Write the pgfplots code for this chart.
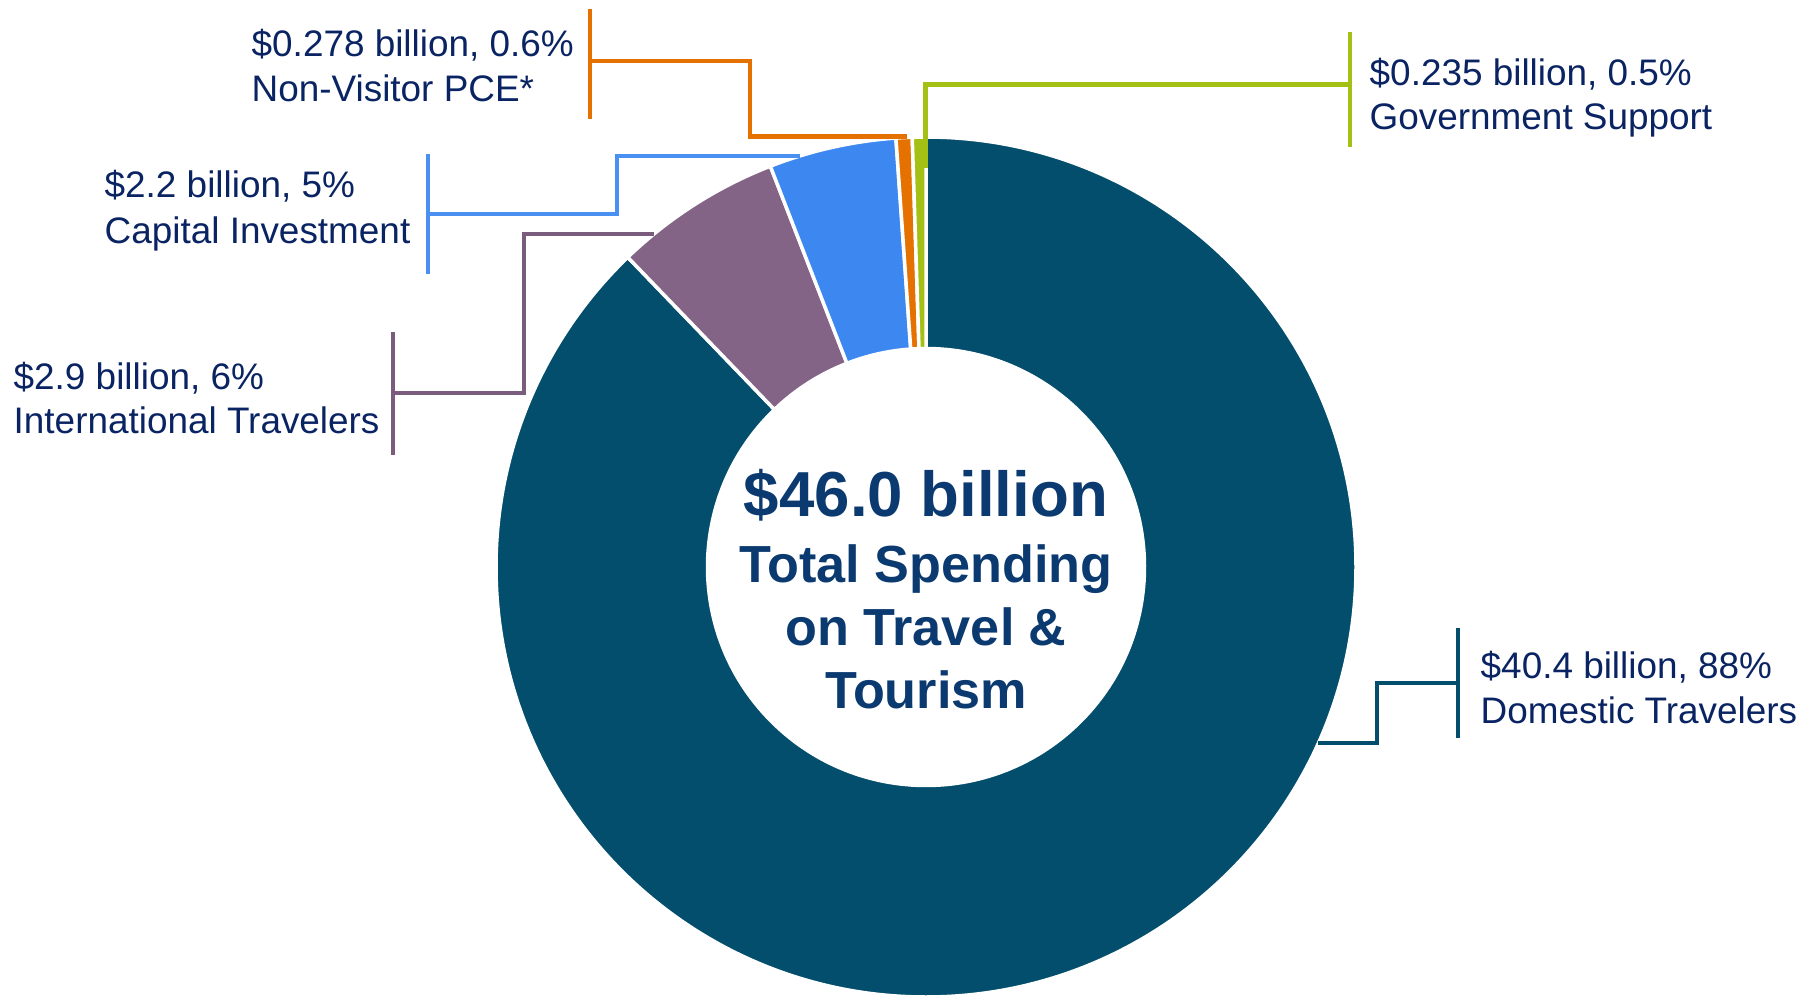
\documentclass[border=0pt]{standalone}
\usepackage{fontspec}
\setmainfont{Liberation Sans}
\usepackage{pgfplots}
\usepackage{pgfplotstable}
\pgfplotsset{compat=1.18}
\definecolor{cDom}{HTML}{034E6C}
\definecolor{cInt}{HTML}{846486}
\definecolor{cIntL}{HTML}{7A5C7C}
\definecolor{cCap}{HTML}{3C87F0}
\definecolor{cCapL}{HTML}{4A90F0}
\definecolor{cNV}{HTML}{E57200}
\definecolor{cGov}{HTML}{A4C014}
\definecolor{cTxt}{HTML}{0A2463}
\definecolor{cCen}{HTML}{0B3A70}
\pgfplotstableread{
label value
Domestic 40.4
International 2.9
Capital 2.2
NonVisitor 0.278
Government 0.235
}\spend
\newcommand\donutslice[3]{%
  \fill[#3, draw=white, line width=0.35mm] (axis cs:926,430) ++(#1:43mm)
    arc[start angle=#1, end angle=#2, radius=43mm]
    -- ++({#2+180}:21.15mm)
    arc[start angle=#2, end angle=#1, radius=21.85mm] -- cycle;}
\newcommand\lbl[3]{\node[anchor=base west, inner sep=0pt, text=cTxt, font=\fontsize{10.5}{12}\selectfont] at (axis cs:#1,#2) {#3};}
\begin{document}
\begin{tikzpicture}
\pgfplotstablegetelem{0}{value}\of\spend \let\vA\pgfplotsretval
\pgfplotstablegetelem{1}{value}\of\spend \let\vB\pgfplotsretval
\pgfplotstablegetelem{2}{value}\of\spend \let\vC\pgfplotsretval
\pgfplotstablegetelem{3}{value}\of\spend \let\vD\pgfplotsretval
\pgfplotstablegetelem{4}{value}\of\spend \let\vE\pgfplotsretval
\pgfmathsetmacro\tot{\vA+\vB+\vC+\vD+\vE}
\pgfmathsetmacro\aA{90}
\pgfmathsetmacro\aB{\aA-360*\vA/\tot}
\pgfmathsetmacro\aC{\aB-360*\vB/\tot}
\pgfmathsetmacro\aD{\aC-360*\vC/\tot}
\pgfmathsetmacro\aE{\aD-360*\vD/\tot}
\pgfmathsetmacro\aF{\aE-360*\vE/\tot}
\begin{axis}[
  x=0.1mm, y=0.1mm,
  xmin=0, xmax=1814, ymin=0, ymax=997,
  hide axis, clip=false,
  scale only axis,
]
\coordinate (BL) at (axis cs:0,0);
\coordinate (TR) at (axis cs:1814,997);
\donutslice{\aA}{\aB}{cDom}
\donutslice{\aB}{\aC}{cInt}
\donutslice{\aC}{\aD}{cCap}
\donutslice{\aD}{\aE}{cNV}
\donutslice{\aE}{\aF}{cGov}
% leader lines
\addplot[cDom, line width=0.45mm, mark=none] coordinates {(1318,254) (1377,254) (1377,314) (1458,314)};
\addplot[cDom, line width=0.45mm, mark=none] coordinates {(1458,369) (1458,259)};
\addplot[cGov, line width=0.45mm, mark=none] coordinates {(925.6,829) (925.6,912.5) (1350,912.5)};
\addplot[cGov, line width=0.45mm, mark=none] coordinates {(1350,965) (1350,850)};
\addplot[cNV, line width=0.45mm, mark=none] coordinates {(907,860.5) (750,860.5) (750,936) (590,936)};
\addplot[cNV, line width=0.45mm, mark=none] coordinates {(590,988) (590,878)};
\addplot[cCapL, line width=0.45mm, mark=none] coordinates {(800,841) (617,841) (617,783) (428,783)};
\addplot[cCapL, line width=0.45mm, mark=none] coordinates {(428,843) (428,723)};
\addplot[cIntL, line width=0.45mm, mark=none] coordinates {(654,763) (524,763) (524,604) (393,604)};
\addplot[cIntL, line width=0.45mm, mark=none] coordinates {(393,665) (393,542)};
% labels
\lbl{1369}{911.4}{\$0.235 billion, 0.5\%}
\lbl{1369}{867.4}{Government Support}
\lbl{251}{940.3}{\$0.278 billion, 0.6\%}
\lbl{251}{895.2}{Non-Visitor PCE*}
\lbl{104}{799}{\$2.2 billion, 5\%}
\lbl{104}{754}{Capital Investment}
\lbl{13}{608}{\$2.9 billion, 6\%}
\lbl{13}{564}{International Travelers}
\lbl{1480}{319}{\$40.4 billion, 88\%}
\lbl{1480}{274}{Domestic Travelers}
% centre
\node[anchor=base, inner sep=0pt, text=cCen, font=\bfseries\fontsize{18.1}{20}\selectfont] at (axis cs:926,481) {\$46.0 billion};
\node[anchor=base, inner sep=0pt, text=cCen, font=\bfseries\fontsize{14.85}{17}\selectfont] at (axis cs:926,415) {Total Spending};
\node[anchor=base, inner sep=0pt, text=cCen, font=\bfseries\fontsize{14.85}{17}\selectfont] at (axis cs:926,352) {on Travel \&};
\node[anchor=base, inner sep=0pt, text=cCen, font=\bfseries\fontsize{14.85}{17}\selectfont] at (axis cs:926,289) {Tourism};
\end{axis}
\pgfresetboundingbox
\path (BL) rectangle (TR);
\end{tikzpicture}
\end{document}
